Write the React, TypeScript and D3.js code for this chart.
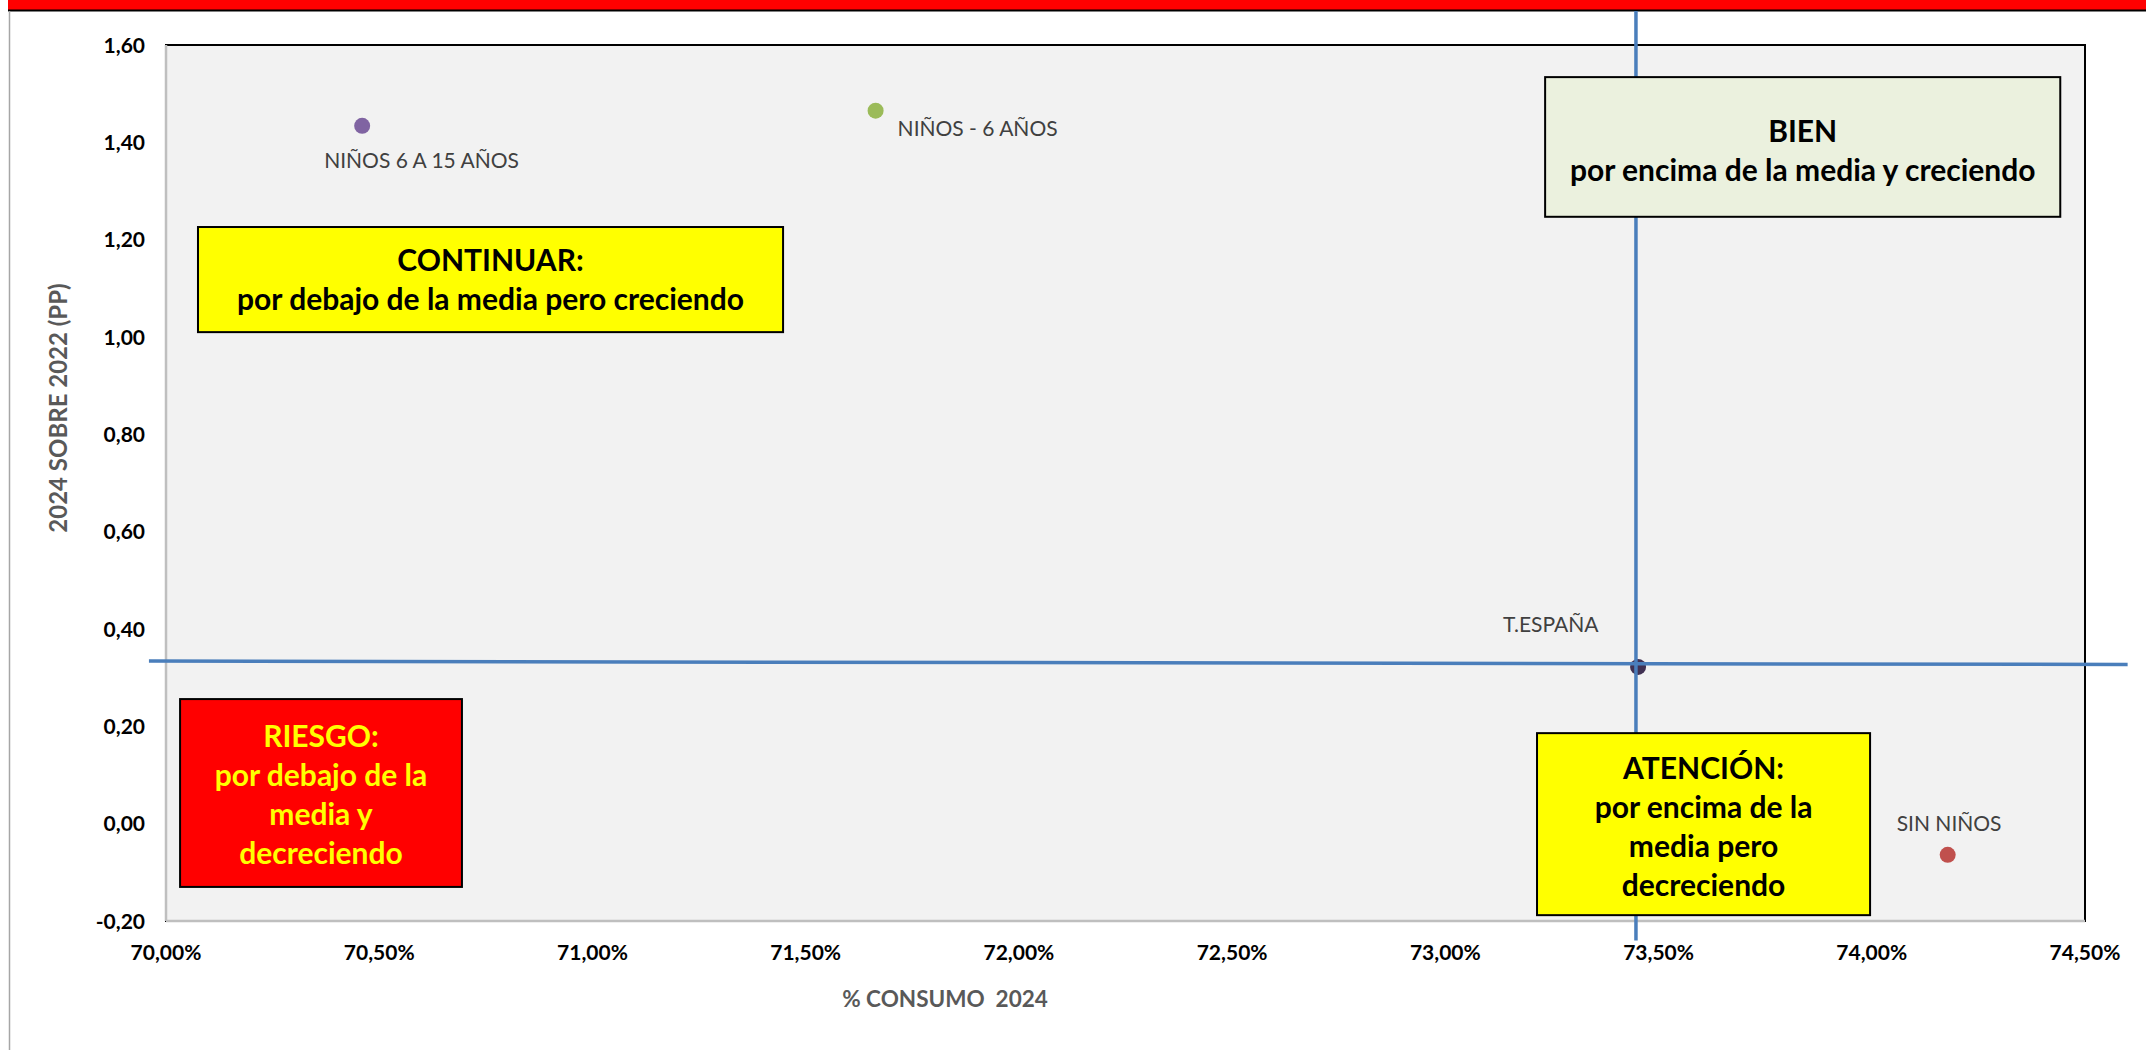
import React from 'react';
import * as d3 from 'd3';

// scatter values
const pointNames = ['NIÑOS 6 A 15 AÑOS', 'NIÑOS - 6 AÑOS', 'T.ESPAÑA', 'SIN NIÑOS'];
const consumo2024 = [70.46, 71.664, 73.452, 74.178];
const cambioPP = [1.434, 1.465, 0.322, -0.064];
const pointColors = ['#8064a2', '#9bbb59', '#403152', '#c0504d'];
const labelOffsets = [[-38, 42], [22, 25], [-135, -35], [-51, -24]];

const xTickValues = [70, 70.5, 71, 71.5, 72, 72.5, 73, 73.5, 74, 74.5];
const xTickLabels = ['70,00%', '70,50%', '71,00%', '71,50%', '72,00%', '72,50%', '73,00%', '73,50%', '74,00%', '74,50%'];
const yTickValues = [1.6, 1.4, 1.2, 1.0, 0.8, 0.6, 0.4, 0.2, 0.0, -0.2];
const yTickLabels = ['1,60', '1,40', '1,20', '1,00', '0,80', '0,60', '0,40', '0,20', '0,00', '-0,20'];

// media lines (drawn as shapes in the original, a bit beyond the plot)
const mediaV = [{ x: 73.447, y: 1.67 }, { x: 73.447, y: -0.24 }];
const mediaH = [{ x: 69.96, y: 0.334 }, { x: 74.6, y: 0.327 }];

// quadrant boxes, in data units
const boxTexts = [
  ['CONTINUAR:', 'por debajo de la media pero creciendo'],
  ['BIEN', 'por encima de la media y creciendo'],
  ['RIESGO:', 'por debajo de la', 'media y', 'decreciendo'],
  ['ATENCIÓN:', 'por encima de la', 'media pero', 'decreciendo'],
];
const boxExtents = [
  [70.075, 71.447, 1.226, 1.01],
  [73.234, 74.442, 1.534, 1.247],
  [70.033, 70.694, 0.256, -0.13],
  [73.215, 73.996, 0.186, -0.188],
];
const boxFills = ['#ffff00', '#ebf1de', '#ff0000', '#ffff00'];
const boxTextColors = ['#000000', '#000000', '#ffff00', '#000000'];
const boxShift = [0, 4, 2, 3];

const W = 2146, H = 1050;
const font = 'Lato, "Open Sans", sans-serif';

export default function App() {
  const x = d3.scaleLinear().domain([70, 74.5]).range([166, 2085]);
  const y = d3.scaleLinear().domain([-0.2, 1.6]).range([921, 45]);
  const line = d3.line<{ x: number; y: number }>().x(d => x(d.x)).y(d => y(d.y));

  const [x0, x1] = x.range();
  const [y0, y1] = y.range();

  return (
    <svg width={W} height={H} style={{ position: 'absolute', left: 0, top: 0, background: '#fff' }} fontFamily={font}>
      {/* frame */}
      <rect x={8} y={0} width={W - 8} height={10} fill="#ff0000" />
      <line x1={8} x2={W} y1={10.5} y2={10.5} stroke="#000" strokeWidth={2} />
      <line x1={9.5} x2={9.5} y1={11} y2={H} stroke="#a6a6a6" strokeWidth={1.5} />

      {/* plot area */}
      <rect x={x0} y={y1} width={x1 - x0} height={y0 - y1} fill="#f2f2f2" stroke="#000" strokeWidth={2} />
      <line x1={x0} x2={x0} y1={y1} y2={y0} stroke="#bfbfbf" strokeWidth={2.5} />
      <line x1={x0} x2={x1} y1={y0} y2={y0} stroke="#bfbfbf" strokeWidth={2.5} />

      {/* y ticks */}
      {yTickValues.map((v, i) => (
        <text key={'y' + i} x={145} y={y(v)} dy="0.36em" textAnchor="end" fontSize={21} fontWeight="bold" fill="#000">
          {yTickLabels[i]}
        </text>
      ))}
      {/* x ticks */}
      {xTickValues.map((v, i) => (
        <text key={'x' + i} x={x(v)} y={960} textAnchor="middle" fontSize={21} fontWeight="bold" fill="#000">
          {xTickLabels[i]}
        </text>
      ))}

      {/* axis titles */}
      <text x={945} y={1007} textAnchor="middle" fontSize={22.5} fontWeight="bold" fill="#595959" style={{ whiteSpace: 'pre' }}>
        {'% CONSUMO  2024'}
      </text>
      <text transform="translate(67,408) rotate(-90)" textAnchor="middle" fontSize={24} fontWeight="bold" fill="#595959">
        2024 SOBRE 2022 (PP)
      </text>

      {/* points */}
      {pointNames.map((n, i) => (
        <circle key={'p' + i} cx={x(consumo2024[i])} cy={y(cambioPP[i])} r={8} fill={pointColors[i]} />
      ))}
      {pointNames.map((n, i) => (
        <text key={'l' + i} x={x(consumo2024[i]) + labelOffsets[i][0]} y={y(cambioPP[i]) + labelOffsets[i][1]}
          fontSize={21} fill="#404040">
          {n}
        </text>
      ))}

      {/* media lines */}
      <path d={line(mediaV) || ''} stroke="#4a7ebb" strokeWidth={3.5} fill="none" />
      <path d={line(mediaH) || ''} stroke="#4a7ebb" strokeWidth={3.5} fill="none" />

      {/* quadrant boxes */}
      {boxTexts.map((lines, i) => {
        const [bx0, bx1, by0, by1] = boxExtents[i];
        const left = x(bx0), right = x(bx1), top = y(by0), bottom = y(by1);
        const cx = (left + right) / 2;
        const cy = (top + bottom) / 2 + boxShift[i];
        const lh = 39;
        const start = cy - ((lines.length - 1) * lh) / 2;
        return (
          <g key={'b' + i}>
            <rect x={left} y={top} width={right - left} height={bottom - top} fill={boxFills[i]} stroke="#000" strokeWidth={2} />
            {lines.map((t, j) => (
              <text key={j} x={cx} y={start + j * lh} dy="0.35em" textAnchor="middle" fontSize={30} fontWeight="bold" fill={boxTextColors[i]}>
                {t}
              </text>
            ))}
          </g>
        );
      })}
    </svg>
  );
}
